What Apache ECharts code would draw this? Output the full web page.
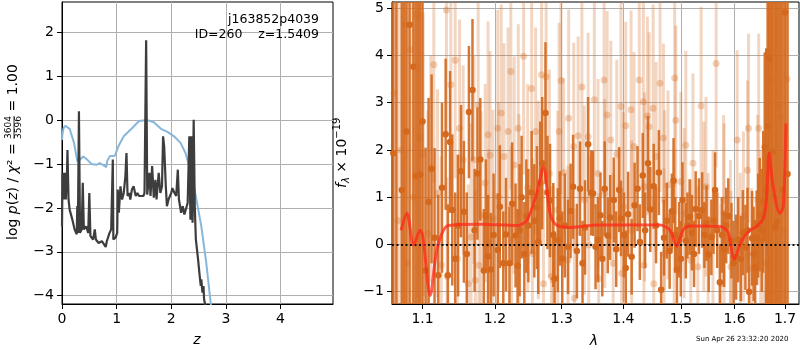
<!DOCTYPE html>
<html>
<head>
<meta charset="utf-8">
<script src="https://cdn.jsdelivr.net/npm/echarts@6.0.0/dist/echarts.min.js"></script>
<style>html,body{margin:0;padding:0;background:#fff}#main{width:800px;height:350px}</style>
</head>
<body>
<div id="main"></div>
<script>
// left panel: log p(z) (dark) and chi2 curve (blue)
var zDark = [0,0.01,0.03,0.05,0.07,0.09,0.10,0.12,0.14,0.19,0.23,0.27,0.28,0.29,0.31,0.33,0.36,0.38,0.40,0.44,
  0.46,0.48,0.50,0.52,0.57,0.60,0.62,0.67,0.73,0.77,0.80,0.82,0.87,0.90,0.93,0.94,0.98,1.01,1.02,1.04,
  1.07,1.10,1.13,1.16,1.18,1.20,1.23,1.25,1.28,1.31,1.35,1.38,1.41,1.44,1.49,1.51,1.54,1.56,1.58,1.60,
  1.62,1.65,1.68,1.71,1.73,1.77,1.80,1.83,1.85,1.87,1.90,1.92,1.95,2.00,2.02,2.06,2.09,2.12,2.14,2.18,
  2.21,2.24,2.27,2.30,2.33,2.35,2.37,2.39,2.41,2.43,2.45,2.49,2.52,2.54,2.55,2.57,2.59,2.60,2.62,2.64];
var pzDark = [-2.42,-1.2,-1.81,-1.2,-1.81,-1.28,-0.68,-1.81,-2.04,-2.27,-2.49,-2.6,-1.96,-2.57,0.2,-2.57,-2.49,-1.43,-2.49,-2.42,
  -2.49,-2.57,-1.66,-2.64,-2.72,-2.49,-2.72,-2.8,-2.76,-2.83,-2.89,-2.76,-2.57,-2.49,-0.9,-2.72,-2.68,-2.57,-1.58,-2.11,
  -1.51,-1.81,-1.66,-1.28,-0.75,-1.73,-1.66,-1.81,-1.58,-1.51,-1.73,-1.66,-1.73,-1.7,-1.73,-1.66,1.82,-1.7,-1.73,-1.2,
  -1.73,-1.05,-1.77,-1.36,-1.81,-1.2,-1.66,-1.51,-0.37,-0.6,-1.51,-1.96,-1.81,-1.66,-1.55,-1.66,-1.73,-1.13,-1.81,-2.11,
  -1.96,-2.15,-2.19,-1.89,-0.37,-2.27,-0.37,-2.34,0.01,-1.96,-2.72,-3.17,-3.55,-3.78,-3.63,-3.93,-3.78,-4.08,-4.2,-4.6];
var zBlue = [0,0.01,0.03,0.06,0.08,0.14,0.22,0.28,0.33,0.39,0.46,0.54,0.63,0.69,0.77,0.81,0.83,0.88,0.97,1.03,
  1.13,1.22,1.31,1.41,1.56,1.68,1.81,1.93,2.05,2.17,2.26,2.35,2.44,2.55,2.64,2.72,2.8];
var pzBlue = [-0.45,-0.3,-0.18,-0.13,-0.11,-0.2,-0.52,-0.94,-0.9,-0.83,-0.9,-1.0,-1.02,-0.98,-1.04,-1.07,-0.92,-0.82,-0.81,-0.6,
  -0.37,-0.26,-0.15,-0.02,0.0,-0.05,-0.2,-0.27,-0.37,-0.52,-0.75,-1.14,-1.67,-2.42,-3.25,-4.15,-5.1];
var zTicks = [0, 1, 2, 3, 4];
var pzTicks = [-4, -3, -2, -1, 0, 1, 2];

// right panel: spectrum points [wavelength, flux, error]
var specDark = [
  [1.062,1.93,8],[1.066,6.5,8],[1.073,1.15,8],[1.076,-2.0,8],[1.079,2.39,8],[1.083,4.65,8],[1.088,3.76,8],[1.091,1.45,8],
  [1.094,5.8,8],[1.097,1.48,6],[1.100,2.6,4],[1.104,-0.55,2.6],[1.108,0.90,2.2],[1.112,1.60,2.0],[1.116,0.14,1.9],
  [1.121,-0.65,1.7],[1.126,1.20,1.8],[1.131,2.33,1.6],[1.134,-0.65,1.5],[1.137,2.17,1.5],[1.140,0.73,1.6],[1.144,-0.30,1.4],
  [1.148,0.40,1.5],[1.152,1.55,1.4],[1.156,0.69,1.5],[1.160,-0.20,1.3],[1.163,2.80,1.4],[1.168,3.27,1.5],[1.171,0.30,1.3],
  [1.175,1.50,1.4],[1.179,1.80,1.3],[1.184,-0.55,1.3],[1.187,0.60,1.2],[1.190,-0.25,1.3],[1.194,-0.53,1.2],[1.198,0.20,1.3],
  [1.204,-0.12,1.2],[1.207,0.80,1.3],[1.212,-0.40,1.1],[1.216,0.21,1.2],[1.221,-0.40,1.2],[1.225,0.86,1.3],[1.230,0.19,1.1],
  [1.233,-0.45,1.2],[1.236,0.30,1.4],[1.239,1.00,1.3],[1.243,-0.20,1.1],[1.246,0.60,1.2],[1.249,0.40,1.2],[1.254,1.10,1.3],
  [1.258,0.50,1.2],[1.262,0.78,1.3],[1.264,0.05,1.1],[1.267,1.30,1.3],[1.270,1.72,1.4],[1.275,2.78,1.5],[1.278,1.10,1.2],
  [1.282,0.93,1.2],[1.287,0.20,1.1],[1.289,-0.72,1.0],[1.294,0.09,1.1],[1.297,0.55,1.0],[1.301,-0.30,1.0],[1.305,0.40,1.1],
  [1.310,-0.05,1.0],[1.314,0.71,1.0],[1.318,1.22,1.1],[1.324,-0.14,1.0],[1.329,1.18,1.0],[1.333,-0.40,0.9],[1.337,0.36,1.0],
  [1.342,2.12,1.0],[1.347,1.09,0.9],[1.350,1.08,0.9],[1.354,-0.05,0.9],[1.358,0.10,0.9],[1.362,0.62,0.9],[1.365,-0.30,0.8],
  [1.369,1.18,1.0],[1.374,0.19,0.8],[1.378,0.57,0.9],[1.384,0.94,0.9],[1.388,-0.10,0.8],[1.393,1.16,0.9],[1.396,0.55,0.8],
  [1.401,0.20,0.9],[1.404,-0.50,0.8],[1.408,0.64,0.9],[1.414,-0.26,0.8],[1.419,0.83,0.9],[1.424,1.18,0.9],[1.428,0.05,0.8],
  [1.433,1.46,0.9],[1.437,0.30,0.8],[1.442,1.72,1.0],[1.446,0.74,0.9],[1.452,1.23,0.9],[1.456,0.40,0.8],[1.461,1.52,0.9],
  [1.465,-0.96,0.8],[1.470,0.14,0.8],[1.475,0.50,0.8],[1.480,-0.14,0.8],[1.484,0.70,0.8],[1.487,1.35,0.9],[1.490,0.20,0.8],
  [1.493,-0.53,0.9],[1.497,0.10,0.8],[1.500,-0.30,0.8],[1.503,0.94,0.8],[1.509,0.08,0.8],[1.512,0.40,0.7],[1.516,0.58,0.8],
  [1.520,0.25,0.8],[1.524,-0.20,0.7],[1.527,0.75,0.8],[1.533,0.60,0.8],[1.539,0.73,0.8],[1.543,0.20,0.7],[1.547,0.45,0.8],
  [1.551,-0.21,0.8],[1.556,0.15,0.8],[1.560,0.50,0.7],[1.563,1.15,0.8],[1.567,0.30,0.8],[1.572,-0.80,0.8],[1.576,0.20,0.8],
  [1.580,-0.10,0.8],[1.584,0.40,0.8],[1.588,0.60,0.8],[1.594,0.08,0.8],[1.598,-0.40,0.9],[1.603,-0.27,0.9],[1.607,0.10,0.9],
  [1.612,-0.30,0.9],[1.616,0.25,0.9],[1.621,-0.06,0.9],[1.625,0.30,0.9],[1.628,-1.00,1.0],[1.634,0.13,1.0],[1.637,-0.20,1.0],
  [1.640,-0.48,1.0],[1.643,0.14,1.0],[1.646,0.40,1.1],[1.649,0.63,1.2],[1.653,0.30,1.3],[1.656,0.90,1.5],[1.659,2.06,2.0],
  [1.662,1.15,3.0],[1.665,2.5,8],[1.668,3.93,8],[1.672,-1.5,8],[1.675,1.96,8],[1.680,0.36,8],[1.683,0.48,8],[1.687,6.0,8],
  [1.691,-2.0,8],[1.695,1.15,8],[1.700,4.91,8],[1.705,1.49,8]
];
var specLight = [
  [1.063,3.2,6],[1.068,0.5,6],[1.072,2.0,6],[1.077,4.65,6],[1.080,-0.4,6],[1.084,4.12,6],[1.088,1.0,6],[1.093,4.86,6],
  [1.096,2.25,5],[1.101,1.91,3],[1.107,0.23,2.6],[1.111,1.6,2.4],[1.115,3.80,2.5],[1.120,1.08,2.2],[1.125,-0.44,2.3],
  [1.132,4.96,2.6],[1.133,-0.68,2.1],[1.138,3.38,2.4],[1.144,3.90,2.5],[1.147,-0.30,2.2],[1.150,2.46,2.3],[1.155,1.79,2.0],
  [1.162,-0.83,2.1],[1.166,0.16,2.4],[1.170,1.79,2.2],[1.172,-0.76,1.9],[1.176,2.95,2.3],[1.177,-0.44,2.0],[1.180,0.62,2.2],
  [1.186,1.3,2.1],[1.190,2.32,2.4],[1.191,0.02,2.0],[1.193,1.89,2.2],[1.197,0.55,2.3],[1.204,2.46,2.5],[1.205,1.01,2.0],
  [1.209,2.78,2.3],[1.213,1.86,2.4],[1.219,2.39,2.2],[1.223,3.66,2.5],[1.224,0.09,2.0],[1.228,1.68,2.3],[1.234,2.46,2.2],
  [1.235,0.66,2.1],[1.242,3.98,2.5],[1.248,1.19,2.2],[1.254,3.30,2.4],[1.255,-0.19,2.0],[1.260,2.39,2.2],[1.264,0.94,2.1],
  [1.269,3.59,2.5],[1.272,-0.83,2.0],[1.276,3.55,2.3],[1.281,1.50,2.2],[1.284,-0.68,1.9],[1.287,-0.76,2.0],[1.294,0.73,2.1],
  [1.296,2.39,2.3],[1.299,3.47,2.4],[1.303,1.52,2.0],[1.310,-0.33,2.0],[1.311,2.67,2.3],[1.319,2.07,2.2],[1.320,-1.14,1.9],
  [1.326,2.30,2.1],[1.332,3.33,2.4],[1.336,0.94,2.0],[1.342,2.28,2.2],[1.343,-0.01,1.9],[1.352,3.06,2.3],[1.358,1.50,2.0],
  [1.359,-0.72,1.8],[1.368,3.48,2.4],[1.369,1.08,2.0],[1.373,2.74,2.2],[1.379,2.21,2.1],[1.383,-0.40,1.9],[1.389,1.91,2.0],
  [1.396,2.92,2.3],[1.397,-0.61,1.8],[1.400,0.80,2.0],[1.404,2.51,2.2],[1.413,2.85,2.1],[1.414,0.30,1.9],[1.418,2.07,2.0],
  [1.427,3.48,2.3],[1.434,3.02,2.2],[1.435,-0.44,1.8],[1.436,1.22,2.0],[1.441,2.72,2.1],[1.444,2.49,2.0],[1.451,2.88,2.2],
  [1.452,-0.83,1.8],[1.456,1.86,2.0],[1.463,3.41,2.3],[1.469,2.25,2.0],[1.470,-0.19,1.8],[1.471,0.94,1.9],[1.477,1.26,2.0],
  [1.488,0.23,1.8],[1.489,3.52,2.3],[1.491,2.63,2.0],[1.500,1.33,1.9],[1.506,0.66,1.8],[1.509,2.10,2.0],[1.518,-0.33,1.7],
  [1.522,1.72,1.9],[1.531,-0.47,1.7],[1.537,2.93,2.1],[1.542,0.80,1.8],[1.546,1.22,1.9],[1.550,-0.19,1.7],[1.559,0.20,1.8],
  [1.565,3.83,2.2],[1.574,-0.83,1.7],[1.579,0.94,1.8],[1.580,0.66,1.9],[1.592,0.09,1.7],[1.593,-0.47,1.6],[1.605,2.21,1.9],
  [1.611,-0.19,1.7],[1.617,0.59,1.8],[1.625,1.57,1.9],[1.627,2.46,2.0],[1.633,-0.51,1.7],[1.645,0.94,1.8],[1.647,2.46,2.0],
  [1.651,0.09,1.9],[1.657,0.09,2.2],[1.661,-0.40,2.6],[1.665,4.05,4],[1.671,3.48,6],[1.678,1.0,6],[1.685,2.92,6],
  [1.691,2.70,6],[1.698,0.3,6],[1.704,3.5,6]
];
var lamModel = [1.072,1.0796,1.0883,1.097,1.1005,1.1102,1.1181,1.1258,1.1348,1.1788,1.232,1.2467,1.2617,1.2718,1.282,1.2919,
  1.3133,1.3561,1.463,1.4806,1.4925,1.5039,1.516,1.5722,1.5873,1.5993,1.6136,1.6297,1.6429,1.6558,1.6623,1.6678,1.6759,1.6895,1.6963,1.7018];
var fluxModel = [0.30,0.66,-0.01,0.30,0.16,-1.08,-0.19,0.23,0.40,0.43,0.40,0.51,1.08,1.64,0.66,0.41,
  0.36,0.41,0.41,0.30,-0.04,0.30,0.39,0.38,0.26,-0.31,0.08,0.30,0.38,0.55,0.94,1.93,1.22,0.66,0.80,2.56];
var lamTicks = [1.1, 1.2, 1.3, 1.4, 1.5, 1.6, 1.7];
var fluxTicks = [-1, 0, 1, 2, 3, 4, 5];

var font = 'DejaVu Sans';
var orange = '#d4691e';
var lamMin = 1.0604, lamMax = 1.7287;
function lg(v) { return Math.log10(v); }
function minus(v) { return String(v).replace('-', '\u2212'); }

function axis(extra, ticks, fmt) {
  return Object.assign({
    type: 'value',
    axisLine: {show: true, onZero: false, lineStyle: {color: '#000', width: 1}},
    axisTick: {show: true, length: 5, customValues: ticks, lineStyle: {color: '#000', width: 1}},
    axisLabel: {customValues: ticks, formatter: fmt, color: '#000', fontSize: 14, fontFamily: font, margin: 8},
    splitLine: {show: true, lineStyle: {color: '#b0b0b0', width: 1}}
  }, extra);
}

function errBars(pts, op, w, zz) {
  return {
    type: 'custom', xAxisIndex: 1, yAxisIndex: 1, z: zz, clip: true, silent: true,
    encode: {x: 0, y: [1, 2]},
    data: pts.map(function (p) { return [lg(p[0]), p[1] - p[2], p[1] + p[2]]; }),
    renderItem: function (params, api) {
      var a = api.coord([api.value(0), api.value(1)]);
      var b = api.coord([api.value(0), api.value(2)]);
      return {type: 'line', shape: {x1: a[0], y1: a[1], x2: b[0], y2: b[1]},
        style: {stroke: orange, lineWidth: w, opacity: op}};
    }
  };
}
function dots(pts, op, size, zz) {
  return {
    type: 'scatter', xAxisIndex: 1, yAxisIndex: 1, z: zz, symbolSize: size, silent: true,
    data: pts.map(function (p) { return [lg(p[0]), p[1]]; }),
    itemStyle: {color: orange, opacity: op}
  };
}

// text helpers for the math-like axis titles
var mctx = document.createElement('canvas').getContext('2d');
function tw(s, size, style) {
  mctx.font = (style || 'normal') + ' ' + size + 'px "' + font + '"';
  return mctx.measureText(s).width;
}
function txt(s, x, y, size, style, align) {
  return {type: 'text', x: x, y: y, style: {text: s, fontSize: size, fontFamily: font,
    fontStyle: style || 'normal', fill: '#000', align: align || 'left', verticalAlign: 'middle'}};
}
function run(parts, kids, x) {
  parts.forEach(function (p) {
    kids.push(txt(p[0], x, p[3] || 0, p[1], p[2]));
    x += tw(p[0], p[1], p[2]);
  });
  return x;
}

var leftKids = [];
var lx = run([['log ', 14], ['p', 14, 'italic'], ['(', 14], ['z', 14, 'italic'], [') / ', 14],
  ['\u03c7', 14, 'italic'], ['\u00b2 = ', 14]], leftKids, 0);
var fw = Math.max(tw('3604', 9), tw('3596', 9));
leftKids.push(txt('3604', lx + fw / 2, -4, 9, 'normal', 'center'));
leftKids.push(txt('3596', lx + fw / 2, 6, 9, 'normal', 'center'));
leftKids.push({type: 'line', shape: {x1: lx, y1: 1, x2: lx + fw, y2: 1}, style: {stroke: '#000', lineWidth: 0.8}});
run([[' = 1.00', 14]], leftKids, lx + fw);

var rightKids = [];
run([['f', 14, 'italic'], ['\u03bb', 10, 'italic', 4], [' \u00d7 10', 14], ['\u221219', 10, 'normal', -5]], rightKids, 0);

var chart = echarts.init(document.getElementById('main'), null, {renderer: 'canvas'});
chart.setOption({
  animation: false,
  grid: [
    {left: 62, top: 2, width: 271, height: 302, show: true, borderColor: '#000', borderWidth: 1, outerBoundsMode: 'none'},
    {left: 392, top: 2, width: 407, height: 302, show: true, borderColor: '#000', borderWidth: 1, outerBoundsMode: 'none'}
  ],
  xAxis: [
    axis({gridIndex: 0, min: 0, max: 4.96}, zTicks, function (v) { return minus(v); }),
    axis({gridIndex: 1, min: lg(lamMin), max: lg(lamMax)}, lamTicks.map(lg),
      function (v) { return Math.pow(10, v).toFixed(1); })
  ],
  yAxis: [
    axis({gridIndex: 0, min: -4.19, max: 2.69}, pzTicks, function (v) { return minus(v); }),
    axis({gridIndex: 1, min: -1.26, max: 5.13}, fluxTicks, function (v) { return minus(v); })
  ],
  series: [
    {type: 'line', xAxisIndex: 0, yAxisIndex: 0, z: 2, showSymbol: false, silent: true,
      data: zBlue.map(function (z, i) { return [z, pzBlue[i]]; }),
      lineStyle: {color: '#86b7db', width: 2}},
    {type: 'line', xAxisIndex: 0, yAxisIndex: 0, z: 3, showSymbol: false, silent: true,
      data: zDark.map(function (z, i) { return [z, pzDark[i]]; }),
      lineStyle: {color: '#3d3d3d', width: 2.2}},
    errBars(specLight, 0.27, 3, 2),
    dots(specLight, 0.3, 7, 3),
    errBars(specDark, 0.9, 2.5, 4),
    dots(specDark, 1, 6.5, 5),
    {type: 'line', xAxisIndex: 1, yAxisIndex: 1, z: 6, showSymbol: false, silent: true, smooth: 0.3,
      data: lamModel.map(function (l, i) { return [lg(l), fluxModel[i]]; }),
      lineStyle: {color: '#ff2a1a', width: 3, opacity: 0.75},
      markLine: {silent: true, symbol: 'none', label: {show: false}, animation: false,
        lineStyle: {color: '#111', width: 2, type: [2, 2.5]}, data: [{yAxis: 0}]}}
  ],
  graphic: [
    {type: 'group', x: 13, y: 240, rotation: Math.PI / 2, children: leftKids, z: 100},
    {type: 'group', x: 342, y: 188, rotation: Math.PI / 2, children: rightKids, z: 100},
    {type: 'text', x: 319, y: 20, z: 100, style: {text: 'j163852p4039', fontSize: 12.5, fontFamily: font, fill: '#000', align: 'right', verticalAlign: 'middle'}},
    {type: 'text', x: 319, y: 35, z: 100, style: {text: 'ID=260    z=1.5409', fontSize: 12.5, fontFamily: font, fill: '#000', align: 'right', verticalAlign: 'middle'}},
    {type: 'text', x: 197, y: 340, z: 100, style: {text: 'z', fontSize: 14, fontStyle: 'italic', fontFamily: font, fill: '#000', align: 'center', verticalAlign: 'middle'}},
    {type: 'text', x: 594, y: 341, z: 100, style: {text: '\u03bb', fontSize: 14, fontStyle: 'italic', fontFamily: font, fill: '#000', align: 'center', verticalAlign: 'middle'}},
    {type: 'text', x: 696, y: 339, z: 100, style: {text: 'Sun Apr 26 23:32:20 2020', fontSize: 7, fontFamily: font, fill: '#000', align: 'left', verticalAlign: 'middle'}}
  ]
});
</script>
</body>
</html>
